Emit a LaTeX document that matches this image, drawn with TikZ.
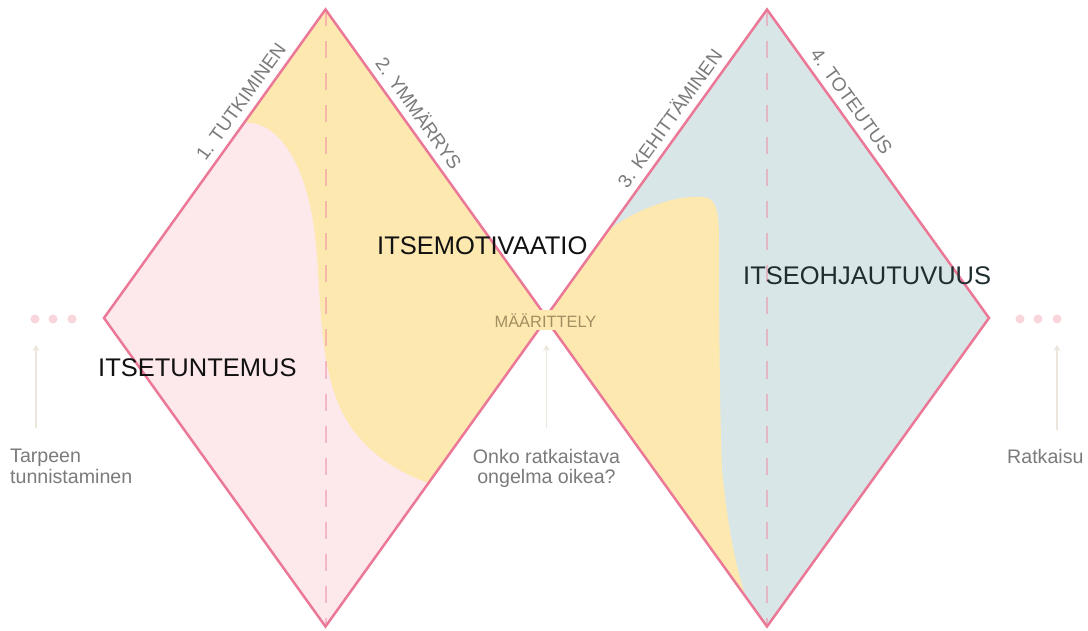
\documentclass[tikz,border=0pt]{standalone}
\usepackage{fontspec}
\setmainfont{Liberation Sans}
\usetikzlibrary{arrows.meta}

\definecolor{edgepink}{HTML}{EC7898}
\definecolor{pinkfill}{HTML}{FDE9EC}
\definecolor{yellowfill}{HTML}{FDE8B0}
\definecolor{bluefill}{HTML}{D9E6E8}
\definecolor{dashpink}{HTML}{EE8FA5}
\definecolor{labelgray}{HTML}{7B7B7B}
\definecolor{inkblack}{HTML}{111111}
\definecolor{inkslate}{HTML}{1F2D30}
\definecolor{olivetext}{HTML}{A08F60}
\definecolor{arrowbeige}{HTML}{EDE6DC}
\definecolor{dotpink}{HTML}{F9D6DC}

\begin{document}
\begin{tikzpicture}[x=1pt,y=-1pt,
  frame/.style={draw=edgepink, line width=2.5pt, line join=miter},
  midline/.style={draw=dashpink, draw opacity=0.55, line width=2pt, dash pattern=on 17pt off 15pt},
  phase/.style={font=\fontsize{19}{20}\selectfont, text=labelgray, inner xsep=0pt, inner ysep=8pt},
  zone/.style={font=\fontsize{25.5}{28}\selectfont, inner sep=0pt},
  note/.style={font=\fontsize{19.6}{20.5}\selectfont, text=labelgray, inner sep=0pt},
  pointer/.style={draw=arrowbeige, line width=1.2pt, -{Stealth[length=6pt,width=7pt]}},
  dot/.style={fill=dotpink, draw=none}
]
\useasboundingbox (0,0) rectangle (1088,631);
\fill[white] (0,0) rectangle (1088,631);

% corners of the two diamonds
\coordinate (L1) at (104,318);
\coordinate (T1) at (325.5,9.5);
\coordinate (R1) at (547,318);
\coordinate (B1) at (325.5,626.5);
\coordinate (L2) at (545,318);
\coordinate (T2) at (767,9.5);
\coordinate (R2) at (989,318);
\coordinate (B2) at (767,626.5);

% left diamond: pink base with a yellow zone on the right
\fill[pinkfill] (L1) -- (T1) -- (R1) -- (B1) -- cycle;
\begin{scope}
  \clip (L1) -- (T1) -- (R1) -- (B1) -- cycle;
  \fill[yellowfill] (236,124) .. controls (270,115) and (300,150) .. (312,215)
    .. controls (322,270) and (316,340) .. (335,395)
    .. controls (352,445) and (395,475) .. (445,488)
    -- (600,488) -- (600,0) -- (236,0) -- cycle;
\end{scope}

% right diamond: blue base with a yellow zone on the left
\fill[bluefill] (L2) -- (T2) -- (R2) -- (B2) -- cycle;
\begin{scope}
  \clip (L2) -- (T2) -- (R2) -- (B2) -- cycle;
  \fill[yellowfill] (600,236) .. controls (640,205) and (680,195) .. (703,197)
    .. controls (716,198) and (719,210) .. (719,240)
    .. controls (719,330) and (720,420) .. (722,470)
    .. controls (728,530) and (736,570) .. (750,610)
    -- (500,610) -- (500,236) -- cycle;
\end{scope}

% vertical centre lines
\draw[midline] (T1) -- (B1);
\draw[midline] (T2) -- (B2);

% outlines
\draw[frame] (L1) -- (T1) -- (R1) -- (B1) -- cycle;
\draw[frame] (L2) -- (T2) -- (R2) -- (B2) -- cycle;

% phase labels along the upper edges
\path (L1) -- (T1) node[phase, pos=0.673, sloped, above] (p1) {1. TUTKIMINEN};
\path (T1) -- (R1) node[phase, pos=0.365, sloped, above] (p2) {2. YMMÄRRYS};
\path (L2) -- (T2) node[phase, pos=0.618, sloped, above] (p3) {3. KEHITTÄMINEN};
\path (T2) -- (R2) node[phase, pos=0.326, sloped, above] (p4) {4. TOTEUTUS};

% zone titles
\node[zone, anchor=base west, text=inkblack] (z1) at (98,377) {ITSETUNTEMUS};
\node[zone, anchor=base west, text=inkblack] (z2) at (377,255) {ITSEMOTIVAATIO};
\node[zone, anchor=base west, text=inkslate] (z3) at (743,285) {ITSEOHJAUTUVUUS};

% label where the diamonds meet
\node[font=\fontsize{16.4}{18}\selectfont, text=olivetext, fill=yellowfill,
      inner xsep=2pt, inner ysep=3pt, anchor=base] (m) at (545.5,327) {MÄÄRITTELY};

% dots on both ends
\fill[dot] (35,319) circle[radius=4.5pt];
\fill[dot] (53,319) circle[radius=4.5pt];
\fill[dot] (72,319) circle[radius=4.5pt];
\fill[dot] (1020,319) circle[radius=4.5pt];
\fill[dot] (1038,319) circle[radius=4.5pt];
\fill[dot] (1057,319) circle[radius=4.5pt];

% pointers
\coordinate (s1) at (36,428);   \coordinate (e1) at (36,345);
\coordinate (s2) at (546.5,428); \coordinate (e2) at (546.5,345);
\coordinate (s3) at (1057,430); \coordinate (e3) at (1057,345);
\draw[pointer] (s1) -- (e1);
\draw[pointer] (s2) -- (e2);
\draw[pointer] (s3) -- (e3);

% bottom notes
\node[note, anchor=north west, align=left] (n1) at (10,449) {Tarpeen\\tunnistaminen};
\node[note, anchor=north, align=center] (n2) at (546.5,449) {Onko ratkaistava\\ongelma oikea?};
\node[note, anchor=base west] (n3) at (1007,463) {Ratkaisu};
\end{tikzpicture}
\end{document}
